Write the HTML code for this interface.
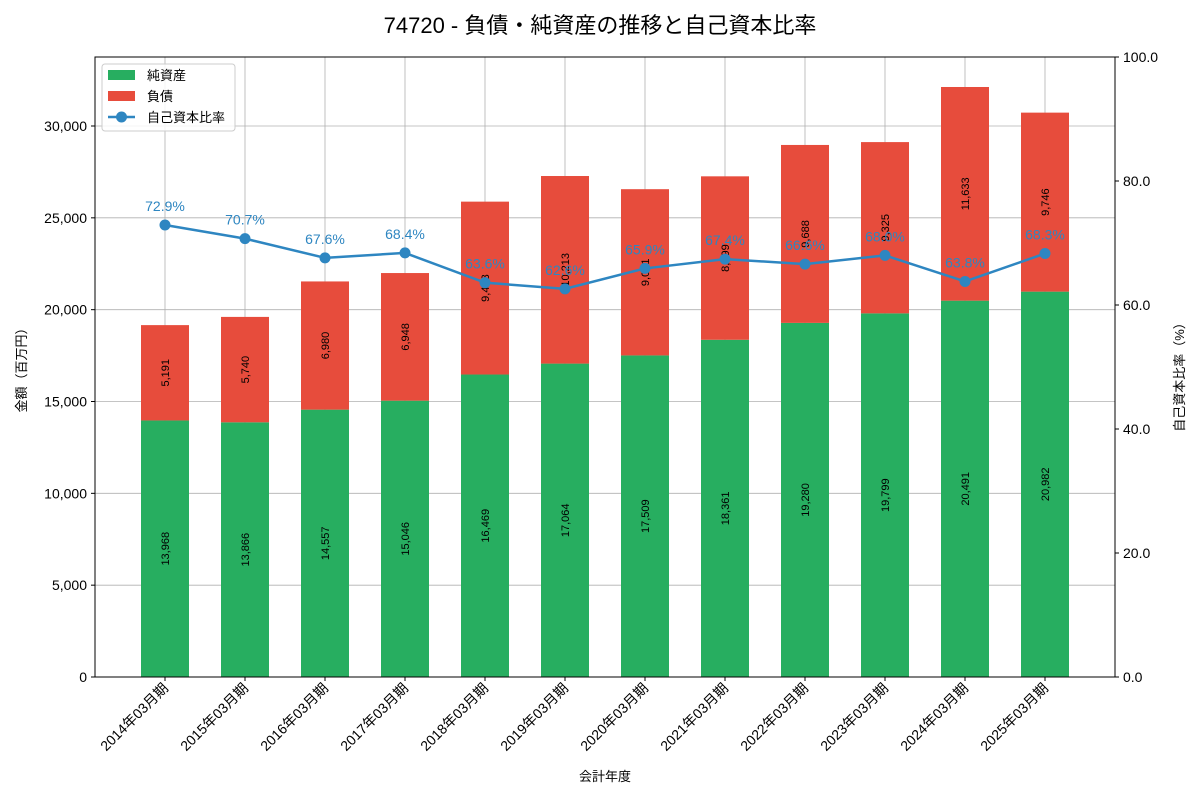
<!DOCTYPE html>
<html><head><meta charset="utf-8">
<style>
body{margin:0;background:#fff;}
svg{display:block;font-family:"Liberation Sans","Noto Sans CJK JP",sans-serif;}
</style></head>
<body>
<svg id="chart" width="1200" height="800" viewBox="0 0 1200 800" xmlns="http://www.w3.org/2000/svg">
<text x="600" y="33" font-size="22" text-anchor="middle" fill="#000">74720 - 負債・純資産の推移と自己資本比率</text>
<g id="grid"></g>
<g id="bars"></g>
<g id="line"></g>
<g id="axes"></g>
<text transform="translate(26,367) rotate(-90)" font-size="13" text-anchor="middle">金額（百万円）</text>
<text transform="translate(1184,374) rotate(-90)" font-size="13" text-anchor="middle">自己資本比率（%）</text>
<text x="605" y="781" font-size="13" text-anchor="middle">会計年度</text>
<g>
<rect x="102" y="64" width="133" height="67" fill="#fff" fill-opacity="0.85" stroke="#ccc" rx="3"/>
<rect x="108" y="70" width="27" height="10" fill="#27ae60"/>
<text x="147" y="80" font-size="13">純資産</text>
<rect x="108" y="91" width="27" height="10" fill="#e74c3c"/>
<text x="147" y="101" font-size="13">負債</text>
<line x1="108" y1="117" x2="135" y2="117" stroke="#2e86c1" stroke-width="2.5"/>
<circle cx="121.5" cy="117" r="5.5" fill="#2e86c1"/>
<text x="147" y="122" font-size="13">自己資本比率</text>
</g>
</svg>
<script>
const categories=["2014年03月期","2015年03月期","2016年03月期","2017年03月期","2018年03月期","2019年03月期","2020年03月期","2021年03月期","2022年03月期","2023年03月期","2024年03月期","2025年03月期"];
const equity=[13968,13866,14557,15046,16469,17064,17509,18361,19280,19799,20491,20982];
const liabilities=[5191,5740,6980,6948,9413,10213,9051,8899,9688,9325,11633,9746];
const ratio=[72.9,70.7,67.6,68.4,63.6,62.6,65.9,67.4,66.6,68.0,63.8,68.3];
const leftTicks=[0,5000,10000,15000,20000,25000,30000];
const rightTicks=[0,20,40,60,80,100];

const NS="http://www.w3.org/2000/svg";
const L=95,R=1115,T=57,B=677;
const yMax=33757;
const y=v=>B-(v/yMax)*(B-T);
const y2=v=>B-(v/100)*(B-T);
const step=(R-L)/(categories.length+0.75);
const x=i=>L+step*(0.875+i);
const bw=48;
function mk(tag,attrs,parent,text){const e=document.createElementNS(NS,tag);for(const k in attrs)e.setAttribute(k,attrs[k]);if(text!==undefined)e.textContent=text;parent.appendChild(e);return e;}
const fmt=v=>v.toLocaleString("en-US");
const grid=document.getElementById("grid"),bars=document.getElementById("bars"),line=document.getElementById("line"),axes=document.getElementById("axes");

leftTicks.forEach(t=>{
  const g=mk("line",{x1:L,x2:R,y1:y(t),y2:y(t),stroke:"#b0b0b0","stroke-width":0.8},grid);
  
  
  mk("line",{x1:L-4,x2:L,y1:y(t),y2:y(t),stroke:"#000"},axes);
  const lb=mk("text",{x:L-8,y:y(t)+5,"font-size":14,"text-anchor":"end"},axes,fmt(t));
  
  
});
rightTicks.forEach(t=>{
  mk("line",{x1:R,x2:R+4,y1:y2(t),y2:y2(t),stroke:"#000"},axes);
  const lb=mk("text",{x:R+8,y:y2(t)+5,"font-size":14},axes,t.toFixed(1));
  
  
});
categories.forEach((c,i)=>{
  const g=mk("line",{x1:x(i),x2:x(i),y1:T,y2:B,stroke:"#b0b0b0","stroke-width":0.8},grid);
  
  
  mk("line",{x1:x(i),x2:x(i),y1:B,y2:B+4,stroke:"#000"},axes);
  const lb=mk("text",{transform:`translate(${x(i)+4},${B+12}) rotate(-45)`,"font-size":14,"text-anchor":"end"},axes,c);
  
  
  const eq=mk("rect",{x:x(i)-bw/2,y:y(equity[i]),width:bw,height:B-y(equity[i]),fill:"#27ae60"},bars);
  
  
  const tot=equity[i]+liabilities[i];
  const li=mk("rect",{x:x(i)-bw/2,y:y(tot),width:bw,height:y(equity[i])-y(tot),fill:"#e74c3c"},bars);
  
  
  const ym1=(y(equity[i])+B)/2, ym2=(y(tot)+y(equity[i]))/2;
  const t1=mk("text",{transform:`translate(${x(i)+4},${ym1}) rotate(-90)`,"font-size":11,"text-anchor":"middle"},bars,fmt(equity[i]));
  
  
  const t2=mk("text",{transform:`translate(${x(i)+4},${ym2}) rotate(-90)`,"font-size":11,"text-anchor":"middle"},bars,fmt(liabilities[i]));
  
  
});
const pl=mk("polyline",{points:ratio.map((r,i)=>x(i)+","+y2(r)).join(" "),fill:"none",stroke:"#2e86c1","stroke-width":2.5},line);


ratio.forEach((r,i)=>{
  const c=mk("circle",{cx:x(i),cy:y2(r),r:5.5,fill:"#2e86c1"},line);
  
  
  const t=mk("text",{x:x(i),y:y2(r)-14,"font-size":14,"text-anchor":"middle",fill:"#2e86c1"},line,r.toFixed(1)+"%");
  
  
});
const fr=mk("rect",{x:L,y:T,width:R-L,height:B-T,fill:"none",stroke:"#000","stroke-width":1},axes);


</script>
</body></html>
